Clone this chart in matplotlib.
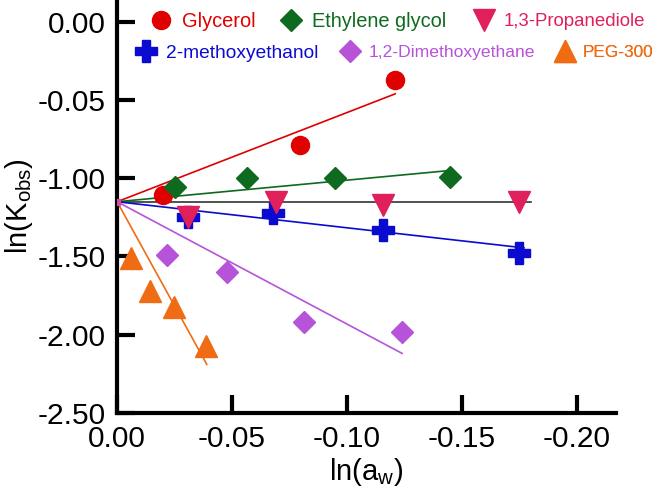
import matplotlib
matplotlib.use("Agg")
import matplotlib.pyplot as plt

plt.rcParams['font.family'] = ['Liberation Sans', 'DejaVu Sans']
plt.rcParams['mathtext.fontset'] = 'custom'
plt.rcParams['mathtext.rm'] = 'Liberation Sans'

# ---- data ----
origin_x = 0.0
origin_y = -1.15

gly_x = [-0.020, -0.0796, -0.121]
gly_y = [-1.11, -0.79, -0.37]

eg_x = [-0.0252, -0.0565, -0.095, -0.145]
eg_y = [-1.055, -1.00, -1.00, -0.99]

pd_x = [-0.031, -0.069, -0.1157, -0.175]
pd_y = [-1.25, -1.15, -1.17, -1.15]

me_x = [-0.031, -0.068, -0.1157, -0.175]
me_y = [-1.25, -1.22, -1.33, -1.48]

dme_x = [-0.0217, -0.048, -0.0813, -0.124]
dme_y = [-1.49, -1.60, -1.92, -1.98]

peg_x = [-0.006, -0.0143, -0.0248, -0.0387]
peg_y = [-1.51, -1.72, -1.82, -2.07]

# fitted line end points (lines start at the origin point)
fit_end_x = {'gly': -0.121, 'eg': -0.145, 'me': -0.177, 'dme': -0.124, 'peg': -0.039, 'ref': -0.180}
fit_end_y = {'gly': -0.46, 'eg': -0.95, 'me': -1.445, 'dme': -2.12, 'peg': -2.19, 'ref': -1.15}

yticks = [0.0, -0.5, -1.0, -1.5, -2.0, -2.5]
ytick_labels = ['0.00', '-0.05', '-1.00', '-1.50', '-2.00', '-2.50']
xticks = [0.0, -0.05, -0.10, -0.15, -0.20]
xtick_labels = ['0.00', '-0.05', '-0.10', '-0.15', '-0.20']

# ---- styling ----
c_gly = '#e00000'
c_eg = '#0e6a1e'
c_pd = '#e0205a'
c_me = '#0a0ad0'
c_dme = '#b653d9'
c_peg = '#f06c14'

fig = plt.figure(figsize=(6.58, 4.88), dpi=100)
ax = fig.add_axes([0.178, 0.154, 0.758, 0.846])

lw = 1.2
ax.plot([origin_x, fit_end_x['ref']], [origin_y, fit_end_y['ref']], color='#333333', lw=lw)
ax.plot([origin_x, fit_end_x['gly']], [origin_y, fit_end_y['gly']], color=c_gly, lw=lw)
ax.plot([origin_x, fit_end_x['eg']], [origin_y, fit_end_y['eg']], color=c_eg, lw=lw)
ax.plot([origin_x, fit_end_x['me']], [origin_y, fit_end_y['me']], color=c_me, lw=lw)
ax.plot([origin_x, fit_end_x['dme']], [origin_y, fit_end_y['dme']], color=c_dme, lw=lw)
ax.plot([origin_x, fit_end_x['peg']], [origin_y, fit_end_y['peg']], color=c_peg, lw=lw)

ax.plot([origin_x], [origin_y], 's', color='#d050a0', ms=5, zorder=5)

h_gly, = ax.plot(gly_x, gly_y, 'o', color=c_gly, ms=13, ls='none', label='Glycerol', zorder=4)
h_eg, = ax.plot(eg_x, eg_y, 'D', color=c_eg, ms=11, ls='none', label='Ethylene glycol', zorder=4)
h_me, = ax.plot(me_x, me_y, 'P', color=c_me, ms=16, ls='none', label='2-methoxyethanol', zorder=4)
h_pd, = ax.plot(pd_x, pd_y, 'v', color=c_pd, ms=16, ls='none', label='1,3-Propanediole', zorder=5)
h_dme, = ax.plot(dme_x, dme_y, 'D', color=c_dme, ms=11, ls='none', label='1,2-Dimethoxyethane', zorder=4)
h_peg, = ax.plot(peg_x, peg_y, '^', color=c_peg, ms=16, ls='none', label='PEG-300', zorder=4)

ax.set_xlim(0.0, -0.217)
ax.set_ylim(-2.5, 0.14)
ax.set_xticks(xticks)
ax.set_xticklabels(xtick_labels)
ax.set_yticks(yticks)
ax.set_yticklabels(ytick_labels)

for s in ['top', 'right']:
    ax.spines[s].set_visible(False)
for s in ['left', 'bottom']:
    ax.spines[s].set_linewidth(3)
ax.tick_params(direction='in', length=13, width=3, labelsize=21.5)
ax.tick_params(axis='x', pad=9)
ax.tick_params(axis='y', pad=8)

ax.set_xlabel(r'ln(a$_{\mathrm{w}}$)', fontsize=21, labelpad=2)
ax.set_ylabel(r'ln(K$_{\mathrm{obs}}$)', fontsize=21, labelpad=2)

# legend entries placed individually (marker centre pixel x, row centre y in axes fraction)
ax_left_px = 0.178 * 658
ax_w_px = 0.758 * 658
entries = [
    (h_gly, 161, 0.947, 14.4),
    (h_eg, 291, 0.947, 14.4),
    (h_pd, 484, 0.947, 13.4),
    (h_me, 146, 0.872, 13.8),
    (h_dme, 350, 0.872, 12.6),
    (h_peg, 565, 0.872, 12.4),
]
hl = 1.2
for h, mx, yfrac, fs in entries:
    half_handle_px = 0.5 * hl * fs * 100 / 72
    xfrac = (mx - half_handle_px - ax_left_px) / ax_w_px
    leg = ax.legend(handles=[h], loc='center left', bbox_to_anchor=(xfrac, yfrac),
                    frameon=False, fontsize=fs, labelcolor='markerfacecolor',
                    handletextpad=0.45, handlelength=hl, borderpad=0, borderaxespad=0)
    ax.add_artist(leg)

fig.savefig('out.png', dpi=100)
